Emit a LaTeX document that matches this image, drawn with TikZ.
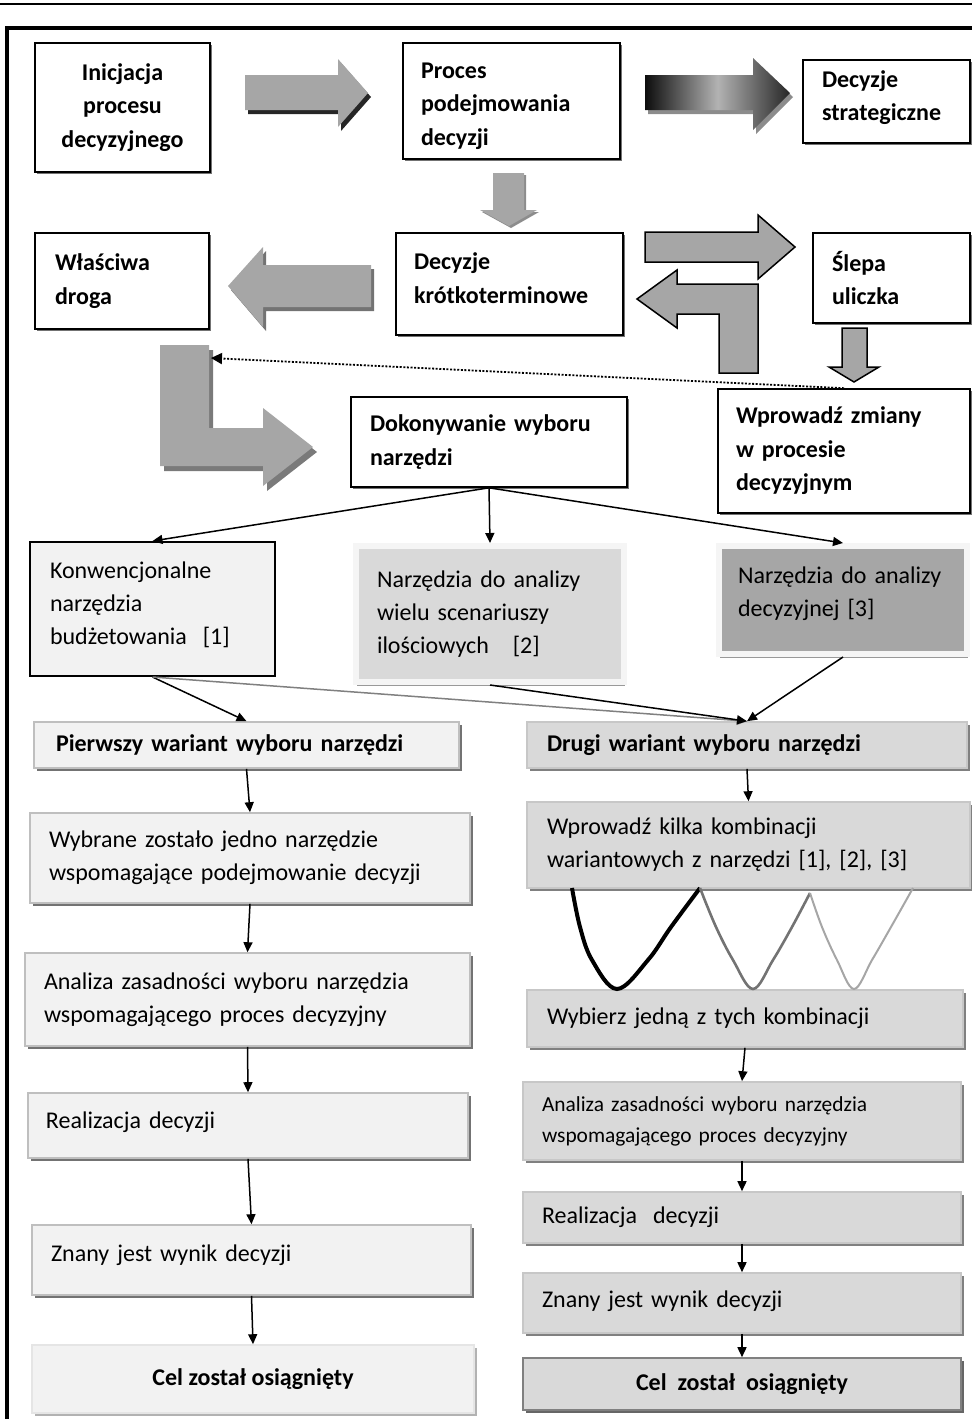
\documentclass[tikz,border=0pt]{standalone}
\usepackage{fontspec}
\setmainfont{Carlito}
\usetikzlibrary{arrows.meta,shadows}
\begin{document}
\begin{tikzpicture}[x=0.5pt,y=-0.5pt,
  tbox/.style={draw=black, line width=0.8pt, fill=white,
    drop shadow={shadow xshift=1pt,shadow yshift=-1pt,fill=black!55,opacity=1},
    font=\fontsize{12}{16.75}\selectfont\bfseries, inner ysep=0pt},
  ibox/.style={draw=black, line width=1pt, fill=black!5,
    font=\fontsize{12}{16.5}\selectfont, inner ysep=0pt},
  fbox/.style={draw=black!4, line width=3pt,
    drop shadow={shadow xshift=0.5pt,shadow yshift=-2pt,fill=black!40,opacity=1},
    font=\fontsize{12}{16.5}\selectfont, inner ysep=0pt},
  lbox/.style={draw=black!25, line width=0.8pt, fill=black!5,
    drop shadow={shadow xshift=1.5pt,shadow yshift=-1.5pt,fill=black!55,opacity=1},
    font=\fontsize{12}{16.5}\selectfont, inner ysep=0pt},
  rbox/.style={draw=black!22, line width=0.8pt, fill=black!15,
    drop shadow={shadow xshift=1.5pt,shadow yshift=-1.5pt,fill=black!50,opacity=1},
    font=\fontsize{12}{16.5}\selectfont, inner ysep=0pt},
  arr/.style={-{Triangle[length=5pt,width=4.5pt]}, line width=0.75pt, draw=black},
  garr/.style={-{Triangle[length=5pt,width=4.5pt]}, line width=0.75pt, draw=black!50},
  blk/.style={fill=black!35},
  oblk/.style={fill=black!35, draw=black, line width=0.75pt, line join=miter},
]
\useasboundingbox (0,0) rectangle (972,1419);

% frame
\draw[line width=1pt] (0,4) -- (972,4);
\draw[line width=2pt] (7,1419) -- (7,28) -- (972,28);

% top boxes
\node[tbox, align=center, minimum width=87.5pt, minimum height=64.5pt] (A) at (122.5,107.5) {Inicjacja\\procesu\\decyzyjnego};
\node[tbox, align=left, text width=90.5pt, inner xsep=9pt, minimum height=58pt] (B) at (511.5,101) {\rule{0pt}{13pt}Proces\\podejmowania\\decyzji};
\node[tbox, align=left, text width=64.5pt, inner xsep=9.5pt, minimum height=41.5pt] (C) at (886.5,101.5) {Decyzje\\strategiczne\rule[-6pt]{0pt}{6pt}};
\node[tbox, align=left, text width=67pt, inner xsep=10pt, minimum height=48pt] (D) at (122,281) {Właściwa\\droga};
\node[tbox, align=left, text width=95.5pt, inner xsep=9pt, minimum height=51pt] (E) at (509.5,284) {Decyzje\\krótkoterminowe\rule[-6pt]{0pt}{6pt}};
\node[tbox, align=left, text width=59.5pt, inner xsep=9.5pt, minimum height=45pt] (F) at (891.5,278) {Ślepa\\uliczka};
\node[tbox, align=left, text width=108pt, inner xsep=9pt, minimum height=62pt] (G) at (844,451) {Wprowadź zmiany\\w procesie\\decyzyjnym};
\node[tbox, align=left, text width=119pt, inner xsep=9.5pt, minimum height=45pt] (H) at (489,442) {Dokonywanie wyboru\\narzędzi};

% tool boxes
\node[ibox, align=left, text width=102.5pt, inner xsep=10pt, minimum height=67pt] (I) at (152.5,609) {Konwencjonalne\\narzędzia\\budżetowania~~[1]\rule[-6pt]{0pt}{6pt}};
\node[fbox, fill=black!15, align=left, text width=113pt, inner xsep=10.5pt, minimum height=68pt] (J) at (490,614) {Narzędzia do analizy\\wielu scenariuszy\\ilościowych~~~[2]};
\node[fbox, fill=black!35, align=left, text width=105pt, inner xsep=9.5pt, minimum height=54pt] (K) at (843,600) {Narzędzia do analizy\\decyzyjnej [3]\rule[-8pt]{0pt}{8pt}};

% left column
\node[lbox, font=\fontsize{12}{16.5}\selectfont\bfseries, align=left, text width=190.5pt, inner xsep=11pt, minimum height=23pt] (L) at (246.5,745) {Pierwszy wariant wyboru narzędzi};
\node[lbox, align=left, text width=201pt, inner xsep=9.5pt, minimum height=45pt] (N) at (250,858) {Wybrane zostało jedno narzędzie\\wspomagające podejmowanie decyzji};
\node[lbox, align=left, text width=203.5pt, inner xsep=9.5pt, minimum height=46.5pt] (O) at (247.5,999.5) {Analiza zasadności wyboru narzędzia\\wspomagającego proces decyzyjny};
\node[lbox, align=left, text width=202pt, inner xsep=9pt, minimum height=32.5pt] (P) at (248,1125.5) {Realizacja decyzji\rule[-5pt]{0pt}{5pt}};
\node[lbox, align=left, text width=200.5pt, inner xsep=9.5pt, minimum height=35pt] (Q) at (251.5,1260) {Znany jest wynik decyzji\rule[-7pt]{0pt}{7pt}};
\node[lbox, drop shadow={shadow xshift=1.5pt,shadow yshift=-1.5pt,fill=black!30,opacity=1}, draw=black!10, font=\fontsize{12}{16.5}\selectfont\bfseries, align=center, minimum width=221pt, minimum height=34pt] (R) at (253,1379) {Cel został osiągnięty};

% right column
\node[rbox, font=\fontsize{12}{16.5}\selectfont\bfseries, align=left, text width=200pt, inner xsep=10pt, minimum height=23pt] (M) at (747,745) {Drugi wariant wyboru narzędzi};
\node[rbox, align=left, text width=201.5pt, inner xsep=10pt, minimum height=43pt] (S) at (748.5,845) {Wprowadź kilka kombinacji\\wariantowych z narzędzi [1], [2], [3]};
\node[rbox, align=left, text width=198pt, inner xsep=10pt, minimum height=28.5pt] (T) at (745,1018.5) {Wybierz jedną z tych kombinacji};
\node[rbox, font=\fontsize{10.7}{15.5}\selectfont, align=left, text width=200pt, inner xsep=9.5pt, minimum height=39pt] (U) at (742,1121) {Analiza zasadności wyboru narzędzia\\wspomagającego proces decyzyjny};
\node[rbox, align=left, text width=200pt, inner xsep=9.5pt, minimum height=25.5pt] (V) at (742,1217.5) {Realizacja~~decyzji};
\node[rbox, align=left, text width=200pt, inner xsep=9.5pt, minimum height=30pt] (W) at (742,1303) {Znany jest wynik decyzji\rule[-4pt]{0pt}{4pt}};
\node[rbox, draw=black!50, drop shadow={shadow xshift=1.5pt,shadow yshift=-1.5pt,fill=black!60,opacity=1}, font=\fontsize{12}{16.5}\selectfont\bfseries, align=center, minimum width=219pt, minimum height=26pt] (X) at (742,1384) {Cel~~został~~osiągnięty};

% block arrows
% A -> B
\fill[black!85, shift={(3,4)}] (245,75) -- (338,75) -- (338,59) -- (368,93) -- (338,127) -- (338,110) -- (245,110) -- cycle;
\fill[blk] (245,75) -- (338,75) -- (338,59) -- (368,93) -- (338,127) -- (338,110) -- (245,110) -- cycle;
% B -> C (gradient)
\fill[black!45, shift={(3,4)}] (645,75) -- (753,75) -- (753,58) -- (790,93) -- (753,130) -- (753,110) -- (645,110) -- cycle;
\shade[left color=black!95, right color=black!85, middle color=black!30] (645,75) -- (753,75) -- (753,58) -- (790,93) -- (753,130) -- (753,110) -- (645,110) -- cycle;
% B -> E
\fill[black!45, shift={(2,2)}] (493,173) -- (524,173) -- (524,210) -- (537,210) -- (509,226) -- (480,210) -- (493,210) -- cycle;
\fill[blk] (493,173) -- (524,173) -- (524,210) -- (537,210) -- (509,226) -- (480,210) -- (493,210) -- cycle;
% E -> D
\fill[black!55, shift={(3,4)}] (371,265) -- (263,265) -- (263,247) -- (228,286) -- (263,327) -- (263,307) -- (371,307) -- cycle;
\fill[blk] (371,265) -- (263,265) -- (263,247) -- (228,286) -- (263,327) -- (263,307) -- (371,307) -- cycle;
% E -> F
\filldraw[oblk] (645,232) -- (758,232) -- (758,215) -- (795,247) -- (758,279) -- (758,262) -- (645,262) -- cycle;
% back to E (L-shaped)
\filldraw[oblk] (758,373) -- (758,284) -- (677,284) -- (677,270) -- (637,299) -- (677,328) -- (677,314) -- (719,314) -- (719,373) -- cycle;
% F -> G
\filldraw[oblk] (842,328) -- (867,328) -- (867,367) -- (879,367) -- (854,382) -- (829,367) -- (842,367) -- cycle;
% D -> H (big L)
\fill[black!52, shift={(4,5)}] (160,345) -- (209,345) -- (209,428) -- (263,428) -- (263,408) -- (313,447) -- (263,486) -- (263,466) -- (160,466) -- cycle;
\fill[blk] (160,345) -- (209,345) -- (209,428) -- (263,428) -- (263,408) -- (313,447) -- (263,486) -- (263,466) -- (160,466) -- cycle;

% dotted arrow
\coordinate (Ltip) at (211,358);
\draw[line width=0.9pt, dash pattern=on 1pt off 0.8pt, -{Triangle[length=5.5pt,width=5.5pt]}] (G.north) -- (Ltip);

% connectors
\draw[arr] (H.south) -- (I.north);
\draw[arr] (H.south) -- (J.north);
\draw[arr] (H.south) -- (K.north);
\draw[arr] (I.south) -- (L.north);
\draw[garr] (I.south) -- (M.north);
\draw[arr] (J.south) -- (M.north);
\draw[arr] (K.south) -- (M.north);

\draw[arr] (L.south) -- (N.north);
\draw[arr] (N.south) -- (O.north);
\draw[arr] (O.south) -- (P.north);
\draw[arr] (P.south) -- (Q.north);
\draw[arr] (Q.south) -- (R.north);

\draw[arr] (M.south) -- (S.north);
\draw[arr] (T.south) -- (U.north);
\draw[arr] (U.south) -- (V.north);
\draw[arr] (V.south) -- (W.north);
\draw[arr] (W.south) -- (X.north);

% combination curves
\draw[line width=2pt, black] plot[smooth, tension=0.6] coordinates {(572,888) (580,927) (592,960) (617,989) (648,960) (671,927) (700,888)};
\draw[line width=1.3pt, black!55] plot[smooth, tension=0.6] coordinates {(700,888) (716,927) (733,960) (753,989) (773,960) (792,927) (810,893)};
\draw[line width=1pt, black!35] plot[smooth, tension=0.6] coordinates {(810,893) (822,927) (837,960) (854,989) (872,960) (891,927) (913,888)};
\end{tikzpicture}
\end{document}
